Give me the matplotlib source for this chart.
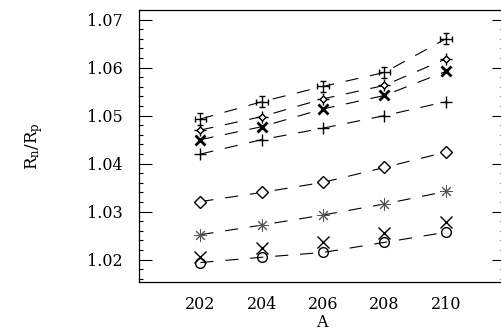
import numpy as np
import matplotlib.pyplot as plt
from matplotlib.ticker import MultipleLocator

plt.rcParams['font.family'] = 'DejaVu Serif'
plt.rcParams['mathtext.fontset'] = 'dejavuserif'
plt.rcParams['lines.scale_dashes'] = False

A = [202, 204, 206, 208, 210]

# ratios, top series first
r_errplus = [1.0493, 1.0529, 1.0561, 1.0590, 1.0660]
r_diaplus = [1.0470, 1.0498, 1.0535, 1.0563, 1.0618]
r_boldx = [1.0450, 1.0477, 1.0514, 1.0542, 1.0592]
r_plus = [1.0420, 1.0450, 1.0474, 1.0500, 1.0529]
r_diamond = [1.0321, 1.0340, 1.0361, 1.0392, 1.0424]
r_star = [1.0252, 1.0272, 1.0293, 1.0316, 1.0342]
r_x = [1.0205, 1.0224, 1.0236, 1.0255, 1.0278]
r_circle = [1.0194, 1.0205, 1.0215, 1.0236, 1.0257]

yticks = [1.02, 1.03, 1.04, 1.05, 1.06, 1.07]

fig = plt.figure(figsize=(5.02, 3.35), dpi=100)
ax = fig.add_axes([0.277, 0.159, 0.727, 0.811])

dash = dict(color='k', lw=0.8, dashes=(9.5, 8.5))
for r in [r_errplus, r_diaplus, r_boldx, r_plus, r_diamond, r_star, r_circle]:
    ax.plot(A, r, **dash)

# markers
ax.errorbar(A, r_errplus, xerr=0.19, yerr=0.00115, fmt='none', ecolor='k',
            elinewidth=1.0, capsize=2.2, capthick=1.0)
ax.plot(A, r_diaplus, ls='none', marker='+', ms=9, mew=1.0, color='k')
ax.plot(A, r_diaplus, ls='none', marker='D', ms=3.5, mew=1.0, mfc='white', mec='k')
ax.plot(A, r_boldx, ls='none', marker='x', ms=7.5, mew=2.0, color='k')
ax.plot(A, r_plus, ls='none', marker='+', ms=9, mew=1.0, color='k')
ax.plot(A, r_diamond, ls='none', marker='D', ms=6, mew=1.0, mfc='white', mec='k')
ax.plot(A, r_star, ls='none', marker=(8, 2, 0), ms=9, mew=0.7, color='#555555')
ax.plot(A, r_x, ls='none', marker='x', ms=8, mew=1.0, color='k')
ax.plot(A, r_circle, ls='none', marker='o', ms=7, mew=1.0, mfc='none', mec='k')

ax.set_xlim(200, 211.9)
ax.set_ylim(1.0154, 1.072)
ax.set_xticks(A)
ax.set_yticks(yticks)
ax.set_yticklabels(['%.2f' % v for v in yticks])
ax.yaxis.set_minor_locator(MultipleLocator(0.002))

ax.tick_params(axis='y', which='major', direction='in', length=9, width=0.8,
               right=True, labelsize=11.5, pad=12)
ax.tick_params(axis='y', which='minor', direction='in', length=3, width=0.8, right=True)
ax.tick_params(axis='x', which='major', length=0, labelsize=11.5, pad=10)

for s in ax.spines.values():
    s.set_linewidth(0.9)

ax.set_ylabel(r'$\mathrm{R_n/R_p}$', fontsize=12, labelpad=30)
ax.set_xlabel('A', fontsize=11.5, labelpad=1)

plt.savefig('out.png', dpi=100)
